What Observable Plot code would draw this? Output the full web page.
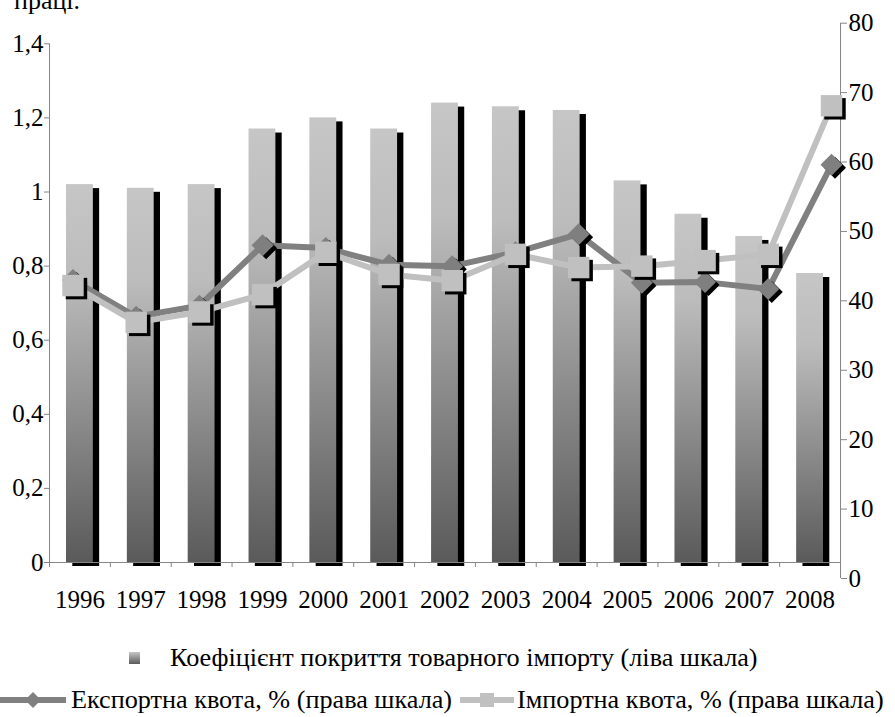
<!DOCTYPE html>
<html>
<head>
<meta charset="utf-8">
<script src="https://cdn.jsdelivr.net/npm/d3@7"></script>
<script src="https://cdn.jsdelivr.net/npm/@observablehq/plot@0.6"></script>
<style>
  html, body { margin: 0; padding: 0; background: #fff; }
  body { font-family: "Liberation Serif", "Times New Roman", serif; color: #000; }
  #wrap { position: relative; width: 895px; height: 717px; overflow: hidden; }
  #chart { position: absolute; left: 0; top: 0; }
  #chart svg, #chart svg text { font-family: "Liberation Serif", "Times New Roman", serif !important; }
  #topline { position: absolute; left: 14px; top: -14px; font-size: 26px; line-height: 30px; white-space: nowrap; }
  .lg { position: absolute; display: flex; align-items: center; white-space: nowrap; font-size: 26.2px; line-height: 30px; }
  .lg svg { display: block; flex: none; }
</style>
</head>
<body>
<div id="wrap">
  <div id="chart"></div>
  <div id="topline">праці.</div>
  <div id="legend"></div>
</div>
<script>
// ---------- data ----------
const years = [1996, 1997, 1998, 1999, 2000, 2001, 2002, 2003, 2004, 2005, 2006, 2007, 2008];
const coverage = [1.02, 1.01, 1.02, 1.17, 1.20, 1.17, 1.24, 1.23, 1.22, 1.03, 0.94, 0.88, 0.78];
const exportQuota = [43.0, 37.7, 39.3, 48.0, 47.6, 45.2, 45.0, 47.0, 49.6, 42.6, 42.7, 41.7, 59.6];
const importQuota = [42.2, 36.9, 38.4, 40.9, 47.0, 43.8, 42.9, 46.7, 44.8, 45.0, 45.8, 46.7, 68.1];
const leftTicks = [0, 0.2, 0.4, 0.6, 0.8, 1, 1.2, 1.4];
const rightTicks = [0, 10, 20, 30, 40, 50, 60, 70, 80];
const coverageName = "Коефіцієнт покриття товарного імпорту (ліва шкала)";
const exportName = "Експортна квота, % (права шкала)";
const importName = "Імпортна квота, % (права шкала)";

// ---------- layout ----------
const W = 895, H = 620;
const left0 = 562, left14 = 43.3;     // pixel of 0 and 1.4 on left scale
const right0 = 578, right80 = 22.7;   // pixel of 0 and 80 on right scale
const pxPerLeft = (left0 - left14) / 1.4;
const pxPerRight = (right0 - right80) / 80;
const toLeft = v => (left0 - (right0 - v * pxPerRight)) / pxPerLeft;
const fromLeft = u => (right0 - left0 + u * pxPerLeft) / pxPerRight;
// secondary category axis for the line series
const lineX = d3.scaleLinear([1996, 2008], [1995.886, 2008.352]);

const serif = "Liberation Serif, Times New Roman, serif";
const axisColor = "#868686";
const expColor = "#808080";
const impColor = "#c0c0c0";

const covData = years.map((year, i) => ({year, value: coverage[i]}));
const expData = years.map((year, i) => ({year, value: exportQuota[i]}));
const impData = years.map((year, i) => ({year, value: importQuota[i]}));
const bounds = d3.range(years.length + 1).map(i => years[0] - 0.5 + i);

const barOpts = {x1: d => d.year - 0.5, x2: d => d.year + 0.5, y: "value", insetLeft: 17, insetRight: 17};
const lx = d => lineX(d.year);
const ly = d => toLeft(d.value);

const chart = Plot.plot({
  width: W,
  height: H,
  marginLeft: 49,
  marginRight: 55,
  marginTop: 22.7,
  marginBottom: 42,
  x: {domain: [1995.5, 2008.5]},
  y: {domain: [toLeft(0), toLeft(80)]},
  style: {fontFamily: serif, fontSize: "25px", color: "#000", background: "transparent", overflow: "visible"},
  marks: [
    // bars with offset shadow
    Plot.rectY(covData, {...barOpts, fill: "#000", dx: 6.3, dy: 4}),
    Plot.rectY(covData, {...barOpts, fill: "url(#barGrad)"}),
    // category axis line and ticks
    Plot.ruleY([0], {x1: 1995.5, x2: 2008.5, stroke: axisColor}),
    Plot.ruleX(bounds, {x: d => d, y1: 0, y2: 0, insetBottom: -5, stroke: axisColor}),
    // left axis line
    Plot.ruleX([1995.5], {y1: 0, y2: 1.4, stroke: axisColor}),
    // right axis line
    Plot.ruleX([2008.5], {y1: toLeft(0), y2: toLeft(80), stroke: axisColor}),
    // export quota
    Plot.line(expData, {x: lx, y: ly, stroke: expColor, strokeWidth: 6, strokeLinejoin: "round"}),
    Plot.dot(expData, {x: lx, y: ly, symbol: "diamond2", r: 9.9, fill: "#000", stroke: null, dx: 3.5, dy: 3}),
    Plot.dot(expData, {x: lx, y: ly, symbol: "diamond2", r: 9.9, fill: "#7f7f7f", stroke: null}),
    // import quota
    Plot.line(impData, {x: lx, y: ly, stroke: impColor, strokeWidth: 6, strokeLinejoin: "round"}),
    Plot.dot(impData, {x: lx, y: ly, symbol: "square", r: 12.1, fill: "#000", stroke: null, dx: 3.5, dy: 3}),
    Plot.dot(impData, {x: lx, y: ly, symbol: "square", r: 12.1, fill: "#c0c0c0", stroke: null}),
    // axes
    Plot.axisY(leftTicks, {anchor: "left", label: null, tickSize: 5, tickPadding: 1, stroke: axisColor, fontFamily: serif, tickFormat: d => String(d).replace(".", ",")}),
    Plot.axisY(rightTicks.map(toLeft), {anchor: "right", label: null, tickSize: 6, tickPadding: 2, stroke: axisColor, fontFamily: serif, tickFormat: d => String(Math.round(fromLeft(d)))}),
    Plot.axisX(years, {anchor: "bottom", label: null, tickSize: 0, tickPadding: 12, fontFamily: serif, tickFormat: d => String(d)})
  ]
});

// gradient for bars
const ns = "http://www.w3.org/2000/svg";
function addGradient(svg, id) {
  const defs = document.createElementNS(ns, "defs");
  const g = document.createElementNS(ns, "linearGradient");
  g.setAttribute("id", id);
  g.setAttribute("x1", "0"); g.setAttribute("y1", "0");
  g.setAttribute("x2", "0"); g.setAttribute("y2", "1");
  [["0", "#c6c6c6"], ["0.25", "#bcbcbc"], ["1", "#5a5a5a"]].forEach(([o, c]) => {
    const s = document.createElementNS(ns, "stop");
    s.setAttribute("offset", o);
    s.setAttribute("stop-color", c);
    g.appendChild(s);
  });
  defs.appendChild(g);
  svg.insertBefore(defs, svg.firstChild);
}
addGradient(chart, "barGrad");
document.getElementById("chart").appendChild(chart);

// ---------- legend ----------
const legend = document.getElementById("legend");
function item(left, top, swatchSvg, text) {
  const d = document.createElement("div");
  d.className = "lg";
  d.style.left = left + "px";
  d.style.top = top + "px";
  d.innerHTML = swatchSvg + `<span>${text}</span>`;
  legend.appendChild(d);
}
item(128, 643,
  `<svg width="42" height="30"><defs><linearGradient id="lgGrad" x1="0" y1="0" x2="0" y2="1"><stop offset="0" stop-color="#c6c6c6"/><stop offset="1" stop-color="#5a5a5a"/></linearGradient></defs><rect x="1" y="9" width="11" height="12" fill="url(#lgGrad)"/></svg>`,
  coverageName);
item(0, 685,
  `<svg width="71" height="30"><line x1="0" x2="66" y1="15" y2="15" stroke="${expColor}" stroke-width="6"/><path d="M33,7 L41,15 L33,23 L25,15 Z" fill="#7f7f7f"/></svg>`,
  exportName);
item(459, 685,
  `<svg width="58" height="30"><line x1="1" x2="55" y1="15" y2="15" stroke="${impColor}" stroke-width="6"/><rect x="21" y="8" width="14" height="14" fill="#c0c0c0"/></svg>`,
  importName);
</script>
</body>
</html>
